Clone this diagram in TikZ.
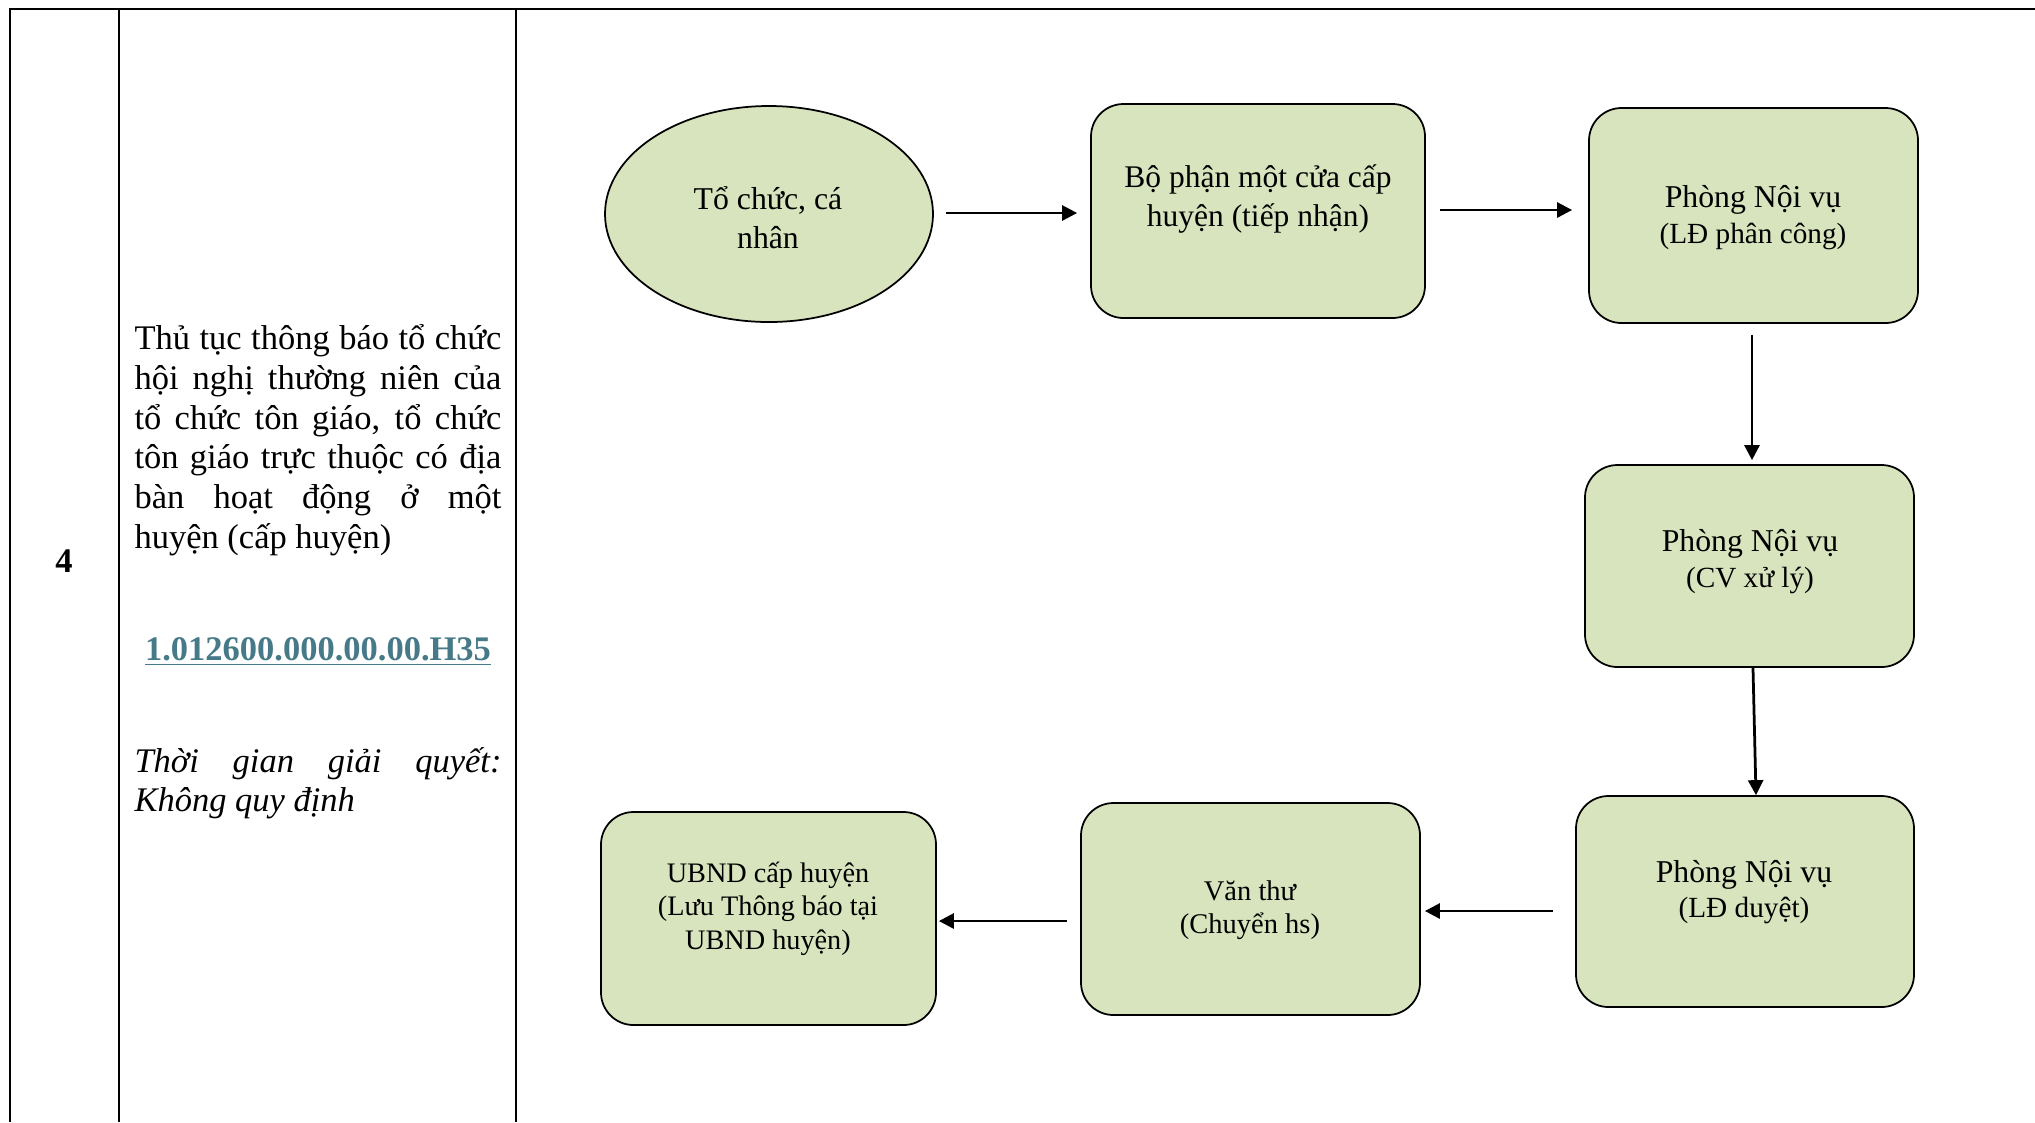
\documentclass[tikz,border=0pt]{standalone}
\usepackage{fontspec}
\setmainfont{Liberation Serif}
\usetikzlibrary{arrows.meta,shapes.geometric}
\definecolor{boxfill}{HTML}{D7E4BD}
\definecolor{linkc}{HTML}{477A88}
\newcommand{\smallline}{\fontsize{11.7}{14}\selectfont}
\begin{document}
\begin{tikzpicture}[x=0.4pt,y=-0.4pt,
  grid/.style={line width=0.9pt},
  box/.style={draw, fill=boxfill, rounded corners=13pt, line width=0.7pt, inner sep=0},
  oval/.style={draw, fill=boxfill, ellipse, line width=0.7pt, inner sep=0},
  txt/.style={align=center, inner sep=0},
  arr/.style={-{Triangle[length=6pt,width=6pt]}, line width=1.1pt}]
\useasboundingbox (0,0) rectangle (2035,1122);
% table grid
\draw[grid] (10,1122) -- (10,9) -- (2035,9);
\draw[grid] (119,9) -- (119,1122);
\draw[grid] (516,9) -- (516,1122);
% left column
\node[font=\fontsize{13.8}{15}\selectfont\bfseries, inner sep=0] (num) at (64,561) {4};
\node[anchor=base west, inner sep=0] (title) at (134,349.7) {\parbox[t]{146.8pt}{\fontsize{13.8}{15.9}\selectfont\sloppy\hyphenpenalty=10000
Thủ tục thông báo tổ chức\linebreak hội nghị thường niên của\linebreak tổ chức tôn giáo, tổ chức\linebreak tôn giáo trực thuộc có địa\linebreak bàn hoạt động ở một\linebreak huyện (cấp huyện)}};
\node[anchor=base, inner sep=0, text=linkc, font=\fontsize{13.8}{15}\selectfont\bfseries] (code) at (318,660) {\underline{1.012600.000.00.00.H35}};
\node[anchor=base west, inner sep=0] (time) at (134,772) {\parbox[t]{146.8pt}{\fontsize{13.8}{15.6}\selectfont\itshape\sloppy\hyphenpenalty=10000
Thời gian giải quyết:\linebreak Không quy định}};
% shapes
\node[oval, minimum width=131.2pt, minimum height=86.4pt] (e) at (769,214) {};
\node[box, minimum width=133.6pt, minimum height=85.6pt] (b1) at (1258,211) {};
\node[box, minimum width=131.6pt, minimum height=86pt] (b2) at (1753.5,215.5) {};
\node[box, minimum width=131.6pt, minimum height=80.8pt] (b3) at (1749.5,566) {};
\node[box, minimum width=135.2pt, minimum height=84.4pt] (b4) at (1745,901.5) {};
\node[box, minimum width=135.6pt, minimum height=84.8pt] (b5) at (1250.5,909) {};
\node[box, minimum width=134pt, minimum height=85.2pt] (b6) at (768.5,918.5) {};
% texts
\node[txt, font=\fontsize{12.7}{15.6}\selectfont] (et) at (768,218) {Tổ chức, cá\\nhân};
\node[txt, font=\fontsize{12.6}{15.6}\selectfont] (b1t) at (1258,199) {Bộ phận một cửa cấp\\huyện (tiếp nhận)};
\node[txt, font=\fontsize{12.7}{14.4}\selectfont] (b2t) at (1753,218) {Phòng Nội vụ\\{\smallline(LĐ phân công)}};
\node[txt, font=\fontsize{12.7}{14.4}\selectfont] (b3t) at (1750,562) {Phòng Nội vụ\\{\smallline(CV xử lý)}};
\node[txt, font=\fontsize{12.7}{14}\selectfont] (b4t) at (1744,892.5) {Phòng Nội vụ\\{\smallline(LĐ duyệt)}};
\node[txt, font=\fontsize{11.4}{13.2}\selectfont] (b5t) at (1250,910.5) {Văn thư\\(Chuyển hs)};
\node[txt, font=\fontsize{11.3}{13.4}\selectfont] (b6t) at (768,908.5) {UBND cấp huyện\\(Lưu Thông báo tại\\UBND huyện)};
% arrows
\draw[arr, shorten <=4.8pt, shorten >=5.2pt] (e.east |- 0,213) -- (b1.west |- 0,213);
\draw[arr, shorten <=5.6pt, shorten >=6.4pt] (b1.east |- 0,210) -- (b2.west |- 0,210);
\draw[arr, shorten <=4.4pt, shorten >=1.6pt] (b2.south -| 1752,0) -- (b3.north -| 1752,0);
\draw[arr] (b3.south -| 1753,0) -- (b4.north -| 1756,0);
\draw[arr, shorten <=8.8pt, shorten >=1.6pt] (b4.west |- 0,911) -- (b5.east |- 0,911);
\draw[arr, shorten <=5.2pt, shorten >=0.8pt] (b5.west |- 0,921) -- (b6.east |- 0,921);
\end{tikzpicture}
\end{document}
